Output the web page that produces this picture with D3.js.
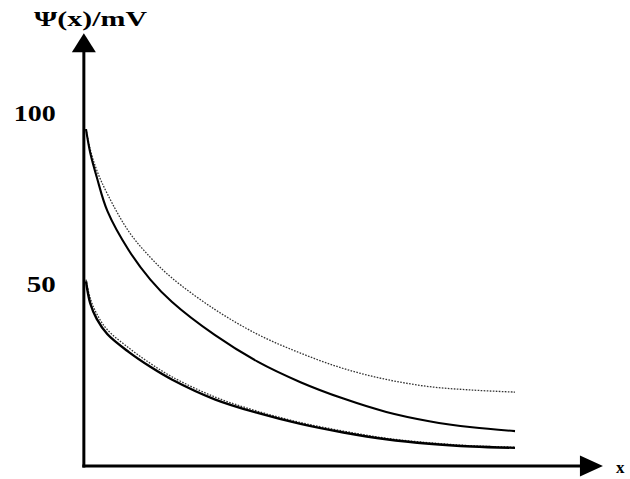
<!DOCTYPE html>
<html>
<head>
<meta charset="utf-8">
<script src="https://cdn.jsdelivr.net/npm/d3@7"></script>
<style>
  html, body { margin: 0; padding: 0; background: #fff; }
  svg { display: block; }
  text { font-family: "Liberation Serif", "DejaVu Serif", serif; font-weight: bold; fill: #000; }
</style>
</head>
<body>
<svg id="chart" width="630" height="479"></svg>
<script>
// ---- data ----
const xs = [0, 0.1, 0.25, 0.5, 1, 1.5, 2, 3, 4, 5, 6, 7, 8, 9, 10];
const upperDotted = [95, 89, 83, 76, 65, 57.5, 51.5, 42.3, 35, 29.5, 25, 21.8, 19.7, 18.7, 18.1];
const upperSolid  = [95, 88, 81, 71, 59.5, 51, 44.5, 34.8, 27, 21, 16.2, 12.3, 9.6, 7.8, 6.7];
const lowerSolid  = [50.5, 44, 39.5, 35, 29.8, 25.5, 21.8, 16, 12, 8.8, 6.3, 4.3, 3.0, 2.2, 1.8];
const lowerDotted = [51, 45.5, 41, 36.3, 31, 26.5, 22.6, 16.7, 12.5, 9.2, 6.7, 4.6, 3.3, 2.4, 2.0];
const yTicks = [50, 100];
const yLabel = "Ψ(x)/mV";
const xLabel = "x";

// ---- scales ----
const svg = d3.select("#chart");
const x = d3.scaleLinear().domain([0, 10]).range([86, 515]);
const y = d3.scaleLinear().domain([0, 100]).range([454, 112]);
const xMin = -0.05, xMax = 12.05;
const yMin = -3.5, yMax = 123;

const x0 = x(xMin), y0 = y(yMin);

// ---- curves ----
function series(vals) { return xs.map((d, i) => [d, vals[i]]); }
const line = d3.line().x(d => x(d[0])).y(d => y(d[1])).curve(d3.curveCatmullRom.alpha(0.5));

const curves = [
  { data: series(upperDotted), w: 1.3, dash: "1.6 1.4", color: "#333" },
  { data: series(upperSolid),  w: 2.1, dash: null, color: "#000" },
  { data: series(lowerDotted), w: 1.3, dash: "1.6 1.4", color: "#333" },
  { data: series(lowerSolid),  w: 2.4, dash: null, color: "#000" }
];
svg.append("g").selectAll("path").data(curves).join("path")
  .attr("d", d => line(d.data))
  .attr("fill", "none")
  .attr("stroke", d => d.color)
  .attr("stroke-width", d => d.w)
  .attr("stroke-dasharray", d => d.dash);

// ---- axes ----
const yAxis = d3.axisLeft(y).tickValues(yTicks).tickSize(0).tickPadding(28).tickFormat(d3.format("d"));
const gy = svg.append("g").attr("transform", `translate(${x0},0)`).call(yAxis);
gy.select(".domain").remove();
gy.selectAll("text")
  .attr("font-size", 24)
  .attr("font-family", "Liberation Serif, serif")
  .attr("font-weight", "bold")
  .attr("dy", "0.34em")
  .attr("textLength", d => d === 100 ? 42 : 29)
  .attr("lengthAdjust", "spacingAndGlyphs");

// axis lines
svg.append("line").attr("x1", x0).attr("y1", y0 + 1.5).attr("x2", x0).attr("y2", y(yMax) + 12)
  .attr("stroke", "#000").attr("stroke-width", 3);
svg.append("line").attr("x1", x0 - 1.5).attr("y1", y0).attr("x2", x(xMax) - 15).attr("y2", y0)
  .attr("stroke", "#000").attr("stroke-width", 3);

// arrowheads
const ty = y(yMax);
svg.append("path")
  .attr("d", `M${x0},${ty} L${x0 - 12},${ty + 19} L${x0 + 12},${ty + 19} Z`)
  .attr("fill", "#000");
const tx = x(xMax);
svg.append("path")
  .attr("d", `M${tx},${y0} L${tx - 23},${y0 - 10.5} L${tx - 23},${y0 + 10.5} Z`)
  .attr("fill", "#000");

// labels
svg.append("text").attr("x", 34).attr("y", 26)
  .attr("font-size", 20)
  .attr("textLength", 113).attr("lengthAdjust", "spacingAndGlyphs")
  .text(yLabel);
svg.append("text").attr("x", 616).attr("y", 473)
  .attr("font-size", 17)
  .text(xLabel);
</script>
</body>
</html>
